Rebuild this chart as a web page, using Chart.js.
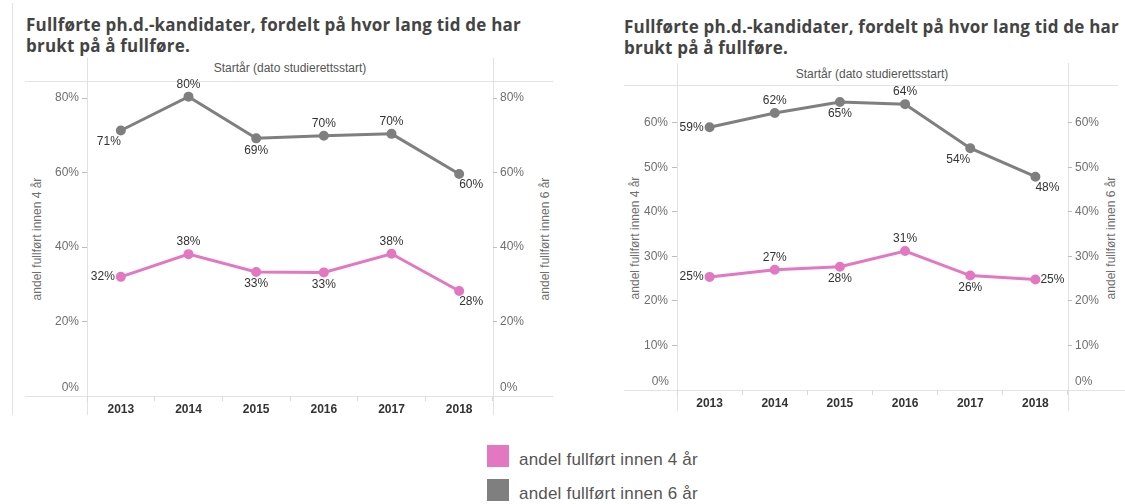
<!DOCTYPE html>
<html>
<head>
<meta charset="utf-8">
<script src="https://cdn.jsdelivr.net/npm/chart.js@4.4.1/dist/chart.umd.min.js"></script>
<style>
  body { margin: 0; background: #fff; width: 1125px; height: 504px; overflow: hidden; position: relative;
         font-family: "Liberation Sans", Arial, sans-serif; }
  .title { position: absolute; font-family: "Open Sans", sans-serif; font-weight: 700; font-size: 17px;
           letter-spacing: 0.2px; line-height: 21px; color: #444; white-space: nowrap; }
  .hl { position: absolute; height: 1px; background: #e2e2e2; }
  .vl { position: absolute; width: 1px; background: #e2e2e2; }
  .hdr { position: absolute; font-size: 12px; line-height: 14px; color: #555; white-space: nowrap; transform: translateX(-50%); }
  .ax { position: absolute; font-size: 12px; color: #6f6f6f; white-space: nowrap; transform: translate(-50%, -50%) rotate(-90deg); }
  canvas { position: absolute; }
  .sw { position: absolute; width: 22px; height: 22px; }
  .lg { position: absolute; font-size: 17px; letter-spacing: 0.2px; line-height: 20px; color: #555; white-space: nowrap; }
</style>
</head>
<body>
  <div class="vl" style="left:12px; top:3px; height:412px;"></div>

  <!-- left chart frame -->
  <div class="title" style="left:26px; top:14px;">Fullførte ph.d.-kandidater, fordelt på hvor lang tid de har<br>brukt på å fullføre.</div>
  <div class="hdr" style="left:290px; top:61px;">Startår (dato studierettsstart)</div>
  <div class="hl" style="left:25px; top:81px; width:528px;"></div>
  <div class="hl" style="left:25px; top:396px; width:528px;"></div>
  <div class="vl" style="left:87px; top:58px; height:357px;"></div>
  <div class="vl" style="left:493px; top:58px; height:357px;"></div>
  <div class="ax" style="left:37px; top:239px;">andel fullført innen 4 år</div>
  <div class="ax" style="left:545px; top:239px;">andel fullført innen 6 år</div>
  <canvas id="leftChart" width="560" height="370" style="left:0; top:55px;"></canvas>

  <!-- right chart frame -->
  <div class="title" style="left:624px; top:16px;">Fullførte ph.d.-kandidater, fordelt på hvor lang tid de har<br>brukt på å fullføre.</div>
  <div class="hdr" style="left:872px; top:67px;">Startår (dato studierettsstart)</div>
  <div class="hl" style="left:624px; top:85px; width:494px;"></div>
  <div class="hl" style="left:624px; top:390px; width:501px;"></div>
  <div class="vl" style="left:677px; top:63px; height:348px;"></div>
  <div class="vl" style="left:1068px; top:63px; height:348px;"></div>
  <div class="ax" style="left:635px; top:238px;">andel fullført innen 4 år</div>
  <div class="ax" style="left:1111px; top:238px;">andel fullført innen 6 år</div>
  <canvas id="rightChart" width="525" height="355" style="left:600px; top:60px;"></canvas>

  <!-- legend -->
  <div class="sw" style="left:487px; top:445px; background:#e377c2;"></div>
  <div class="lg" style="left:519px; top:450px;">andel fullført innen 4 år</div>
  <div class="sw" style="left:487px; top:479px; background:#7f7f7f;"></div>
  <div class="lg" style="left:519px; top:484px;">andel fullført innen 6 år</div>

<script>
'use strict';

// data (percent)
const years = ["2013", "2014", "2015", "2016", "2017", "2018"];
const left4yr = [32.0, 38.1, 33.3, 33.2, 38.2, 28.2];
const left6yr = [71.3, 80.4, 69.2, 69.9, 70.4, 59.6];
const right4yr = [25.4, 27.0, 27.7, 31.2, 25.7, 24.8];
const right6yr = [59.0, 62.2, 64.7, 64.2, 54.3, 47.9];
const leftTicks = [0, 20, 40, 60, 80];
const rightTicks = [0, 10, 20, 30, 40, 50, 60];

const PINK = '#e377c2';
const GRAY = '#7f7f7f';
const FONT = '"Liberation Sans", Arial, sans-serif';

// value labels next to each point
const pointLabels = {
  id: 'pointLabels',
  afterDatasetsDraw(chart) {
    const ctx = chart.ctx;
    ctx.save();
    ctx.font = '12px ' + FONT;
    ctx.fillStyle = '#333';
    ctx.textBaseline = 'middle';
    chart.data.datasets.forEach(function(ds, i) {
      chart.getDatasetMeta(i).data.forEach(function(pt, j) {
        let x = pt.x, y = pt.y, align = 'center';
        const p = ds.labelPos[j];
        if (p === 'above') y -= 12;
        else if (p === 'below') y += 12;
        else if (p === 'left') { x -= 6; align = 'right'; }
        else if (p === 'right') { x += 5; align = 'left'; }
        else if (p === 'belowLeft') { x -= 12; y += 11; }
        else if (p === 'belowRight') { x += 12; y += 11; }
        ctx.textAlign = align;
        ctx.fillText(Math.round(ds.data[j]) + '%', x, y);
      });
    });
    ctx.restore();
  }
};

// 0% sits a bit above the baseline, without a tick mark
const zeroLabels = {
  id: 'zeroLabels',
  afterDraw(chart) {
    const a = chart.chartArea, ctx = chart.ctx;
    ctx.save();
    ctx.font = '12px ' + FONT;
    ctx.fillStyle = '#6f6f6f';
    ctx.textBaseline = 'middle';
    ctx.textAlign = 'right';
    ctx.fillText('0%', a.left - 8, a.bottom - 8);
    ctx.textAlign = 'left';
    ctx.fillText('0%', a.right + 7, a.bottom - 8);
    ctx.restore();
  }
};

function yAxis(pos, max, ticks, width, pad) {
  return {
    position: pos,
    min: 0,
    max: max,
    afterBuildTicks: function(s) { s.ticks = ticks.map(function(v) { return { value: v }; }); },
    afterFit: function(s) { s.width = width; },
    border: { display: false },
    grid: {
      drawOnChartArea: false,
      tickLength: pos === 'left' ? 5 : 4,
      tickColor: function(c) { return c.tick && c.tick.value === 0 ? 'rgba(0,0,0,0)' : '#bdbdbd'; }
    },
    ticks: {
      padding: pad,
      color: '#6f6f6f',
      font: { size: 12, family: FONT },
      callback: function(v) { return v === 0 ? '' : v + '%'; }
    }
  };
}

function makeChart(id, d4, d6, pos4, pos6, max, ticks, box) {
  return new Chart(document.getElementById(id), {
    type: 'line',
    data: {
      labels: years,
      datasets: [
        { label: 'andel fullført innen 6 år', data: d6, yAxisID: 'y2', labelPos: pos6,
          borderColor: GRAY, backgroundColor: GRAY, borderWidth: 3, pointRadius: 3.5, tension: 0 },
        { label: 'andel fullført innen 4 år', data: d4, yAxisID: 'y', labelPos: pos4,
          borderColor: PINK, backgroundColor: PINK, borderWidth: 3, pointRadius: 3.5, tension: 0 }
      ]
    },
    options: {
      responsive: false,
      animation: false,
      devicePixelRatio: 1,
      layout: { padding: { top: box.top, left: 0, right: 0, bottom: 0 } },
      plugins: { legend: { display: false }, tooltip: { enabled: false } },
      scales: {
        x: {
          offset: true,
          afterFit: function(s) { s.height = box.xh; },
          border: { display: false },
          grid: { offset: true, drawOnChartArea: false, tickLength: 5, color: '#d9d9d9' },
          ticks: { padding: 1, maxRotation: 0, color: '#333', font: { size: 12, weight: 'bold', family: FONT } }
        },
        y: yAxis('left', max, ticks, box.lw, box.lpad),
        y2: yAxis('right', max, ticks, box.rw, 3)
      }
    },
    plugins: [pointLabels, zeroLabels]
  });
}

makeChart('leftChart', left4yr, left6yr,
  ['left', 'above', 'below', 'below', 'above', 'belowRight'],
  ['belowLeft', 'above', 'below', 'above', 'above', 'belowRight'],
  84.6, leftTicks, { top: 26, xh: 29, lw: 87, rw: 67, lpad: 3 });

makeChart('rightChart', right4yr, right6yr,
  ['left', 'above', 'below', 'above', 'below', 'right'],
  ['left', 'above', 'below', 'above', 'belowLeft', 'belowRight'],
  68.5, rightTicks, { top: 25, xh: 25, lw: 77, rw: 57, lpad: 4 });
</script>
</body>
</html>
